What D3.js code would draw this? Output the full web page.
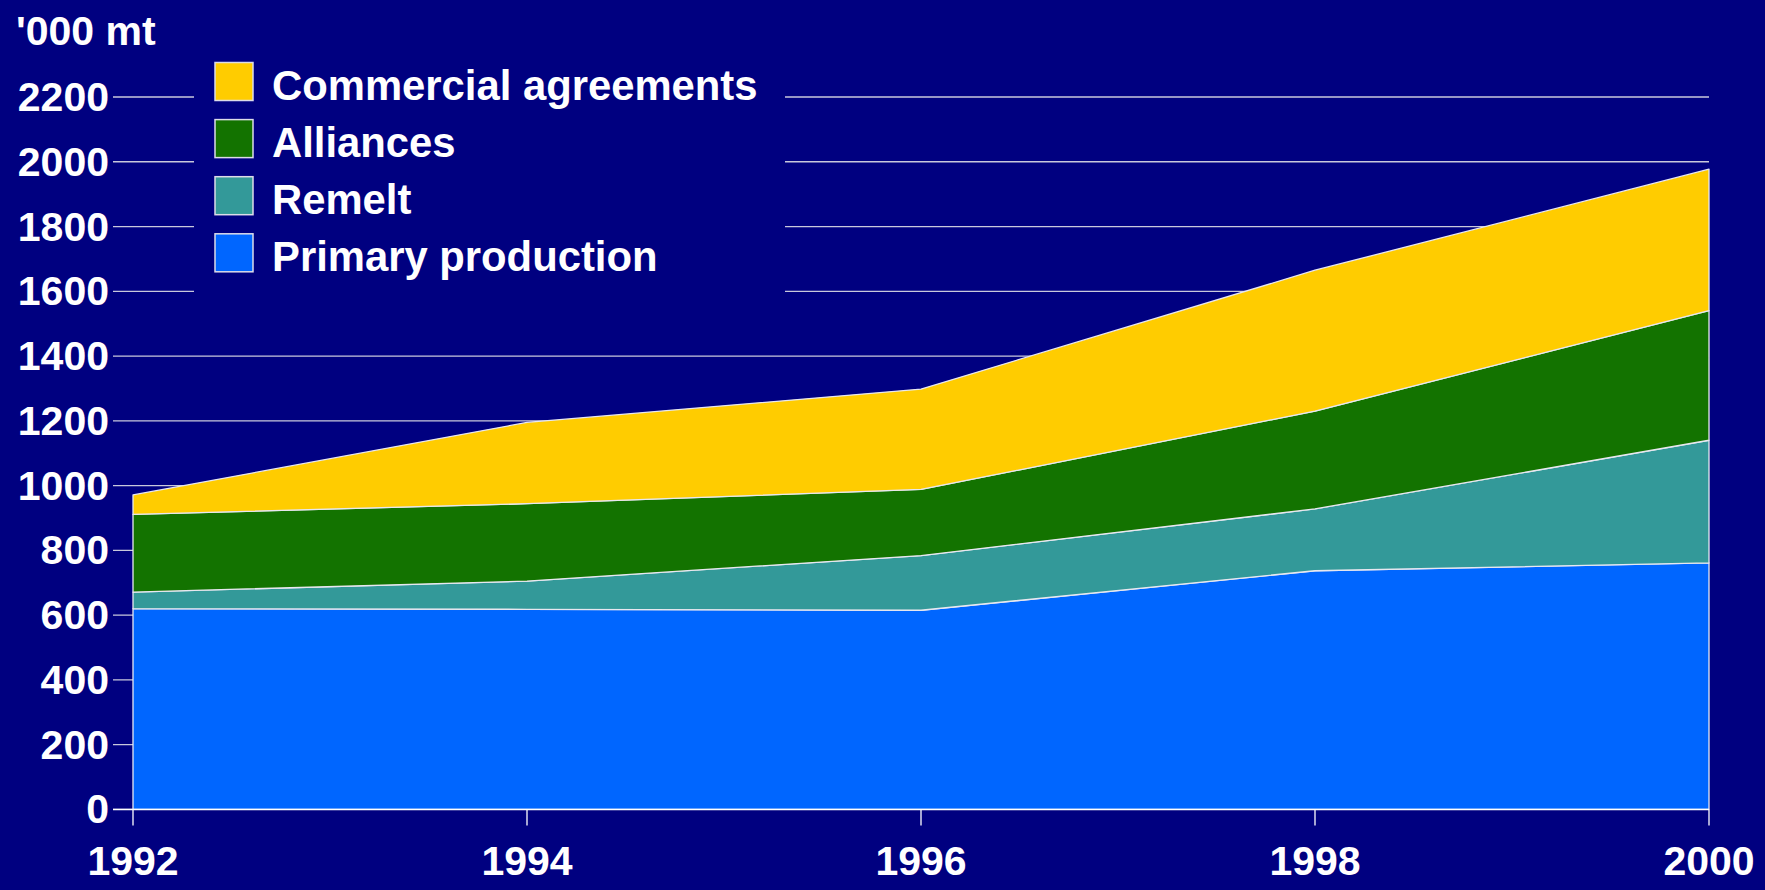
<!DOCTYPE html>
<html>
<head>
<meta charset="utf-8">
<script src="https://cdn.jsdelivr.net/npm/d3@7"></script>
<style>
  html, body { margin: 0; padding: 0; background: #000080; }
  svg { display: block; }
  text { font-family: "Liberation Sans", Arial, sans-serif; font-weight: bold; fill: #ffffff; }
</style>
</head>
<body>
<svg id="chart" width="1765" height="890"></svg>
<script>
// Capacity by source, '000 metric tonnes
const years = [1992, 1994, 1996, 1998, 2000];
const primaryProduction = [620, 618, 615, 737, 761];
const remelt = [51, 87, 169, 191, 379];
const alliances = [240, 239, 204, 302, 400];
const commercialAgreements = [60, 251, 310, 435, 437];

const seriesKeys = ["Primary production", "Remelt", "Alliances", "Commercial agreements"];
const seriesColors = ["#0066FF", "#339999", "#137300", "#FFCC00"];
const yTicks = [0, 200, 400, 600, 800, 1000, 1200, 1400, 1600, 1800, 2000, 2200];
const unitLabel = "'000 mt";

const rows = years.map((yr, i) => ({
  year: yr,
  "Primary production": primaryProduction[i],
  "Remelt": remelt[i],
  "Alliances": alliances[i],
  "Commercial agreements": commercialAgreements[i]
}));

const svg = d3.select("#chart");
const plot = { left: 133, right: 1709, top: 97, bottom: 809.4 };

const x = d3.scaleLinear().domain([1992, 2000]).range([plot.left, plot.right]);
const y = d3.scaleLinear().domain([0, 2200]).range([plot.bottom, plot.top]);

// horizontal gridlines, with ticks extending left of the plot
svg.append("g")
  .selectAll("line")
  .data(yTicks)
  .join("line")
  .attr("x1", plot.left - 20)
  .attr("x2", plot.right)
  .attr("y1", d => y(d))
  .attr("y2", d => y(d))
  .attr("stroke", "#c8c8dc")
  .attr("stroke-width", 1.3);

// y tick labels
svg.append("g")
  .selectAll("text")
  .data(yTicks)
  .join("text")
  .attr("x", 109)
  .attr("y", d => y(d) + 14)
  .attr("text-anchor", "end")
  .attr("font-size", 41)
  .text(d => d);

// stacked areas
const stack = d3.stack().keys(seriesKeys);
const layers = stack(rows);
const area = d3.area()
  .x(d => x(d.data.year))
  .y0(d => y(d[0]))
  .y1(d => y(d[1]));

svg.append("g")
  .selectAll("path")
  .data(layers)
  .join("path")
  .attr("d", area)
  .attr("fill", (d, i) => seriesColors[i])
  .attr("stroke", "#e8e8f0")
  .attr("stroke-width", 1.3)
  .attr("stroke-linejoin", "round");

// x axis baseline and ticks
svg.append("line")
  .attr("x1", plot.left - 20).attr("x2", plot.right)
  .attr("y1", y(0)).attr("y2", y(0))
  .attr("stroke", "#ffffff").attr("stroke-width", 1.5);

svg.append("g")
  .selectAll("line")
  .data(years)
  .join("line")
  .attr("x1", d => x(d)).attr("x2", d => x(d))
  .attr("y1", y(0)).attr("y2", y(0) + 16)
  .attr("stroke", "#ffffff").attr("stroke-width", 1.3);

svg.append("g")
  .selectAll("text")
  .data(years)
  .join("text")
  .attr("x", d => x(d))
  .attr("y", 875)
  .attr("text-anchor", "middle")
  .attr("font-size", 41)
  .text(d => d);

// unit label
svg.append("text")
  .attr("x", 16)
  .attr("y", 45)
  .attr("font-size", 41)
  .text(unitLabel);

// legend (panel masks the gridlines behind it)
const legend = svg.append("g");
legend.append("rect")
  .attr("x", 194).attr("y", 50)
  .attr("width", 591).attr("height", 250)
  .attr("fill", "#000080");

const legendOrder = seriesKeys.slice().reverse();
const legendColors = seriesColors.slice().reverse();
const item = legend.selectAll("g.item")
  .data(legendOrder)
  .join("g")
  .attr("class", "item")
  .attr("transform", (d, i) => `translate(215, ${62.5 + i * 57.1})`);

item.append("rect")
  .attr("width", 38).attr("height", 38)
  .attr("fill", (d, i) => legendColors[i])
  .attr("stroke", "#dcdce8")
  .attr("stroke-width", 1.5);

item.append("text")
  .attr("x", 57)
  .attr("y", 37.5)
  .attr("font-size", 41.8)
  .text(d => d);
</script>
</body>
</html>
